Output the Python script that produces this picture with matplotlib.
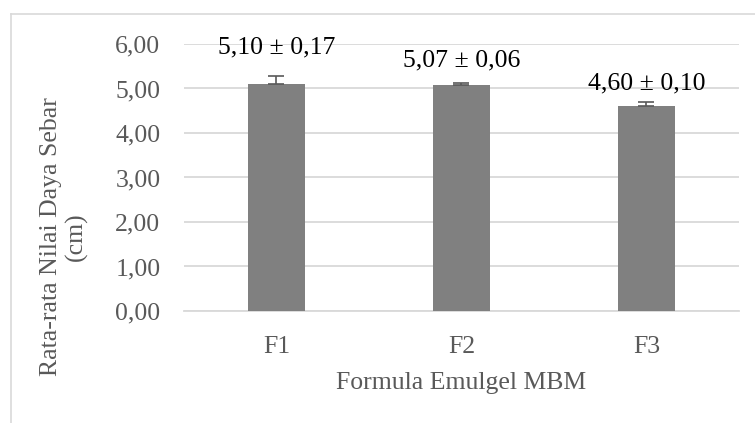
import matplotlib
matplotlib.use('Agg')
import matplotlib.pyplot as plt
from matplotlib.lines import Line2D

# data
formula = ['F1', 'F2', 'F3']
rata_rata = [5.10, 5.07, 4.60]
sd = [0.17, 0.06, 0.10]
label_teks = ['5,10 ± 0,17', '5,07 ± 0,06', '4,60 ± 0,10']
label_y = [5.92, 5.63, 5.11]
yticks = [0, 1, 2, 3, 4, 5, 6]

plt.rcParams['font.family'] = ['Liberation Serif', 'DejaVu Serif']
fs = 18.5

fig = plt.figure(figsize=(7.55, 4.23), dpi=100)
ax = fig.add_axes([0.2437, 0.2648, 0.7351, 0.6312])

x = list(range(len(formula)))
ax.bar(x, rata_rata, width=0.31, color='#808080', zorder=3)
ax.errorbar(x, rata_rata, yerr=[[0, 0, 0], sd], fmt='none', ecolor='#595959',
            elinewidth=1.2, capsize=6, capthick=1.2, zorder=4)

for xi, t, yl in zip(x, label_teks, label_y):
    ax.text(xi, yl, t, ha='center', va='center', fontsize=fs, color='black')

ax.set_xlim(-0.5, 2.5)
ax.set_ylim(0, 6)
ax.set_yticks(yticks)
ax.set_yticklabels([('%.2f' % v).replace('.', ',') for v in yticks])
ax.set_xticks(x)
ax.set_xticklabels(formula)
ax.tick_params(axis='both', length=0, labelsize=fs, colors='#595959')
ax.tick_params(axis='y', pad=17)
ax.tick_params(axis='x', pad=18)

ax.grid(axis='y', color='#d9d9d9', linewidth=1.3, zorder=0)
for s in ['top', 'right', 'left']:
    ax.spines[s].set_visible(False)
ax.spines['bottom'].set_color('#d9d9d9')
ax.spines['bottom'].set_linewidth(1.3)

ax.set_xlabel('Formula Emulgel MBM', fontsize=fs, color='#595959', labelpad=10)
ax.set_ylabel('Rata-rata Nilai Daya Sebar\n(cm)', fontsize=fs, color='#595959',
              linespacing=1.15)
ax.yaxis.label.set_va('center')
ax.yaxis.set_label_coords(-0.217, 0.28)

# bingkai chart
fig.add_artist(Line2D([11 / 755, 11 / 755], [0, 1 - 14 / 423], color='#d9d9d9', lw=1.2))
fig.add_artist(Line2D([11 / 755, 1], [1 - 14 / 423, 1 - 14 / 423], color='#d9d9d9', lw=1.2))

fig.savefig('out.png', dpi=100)
